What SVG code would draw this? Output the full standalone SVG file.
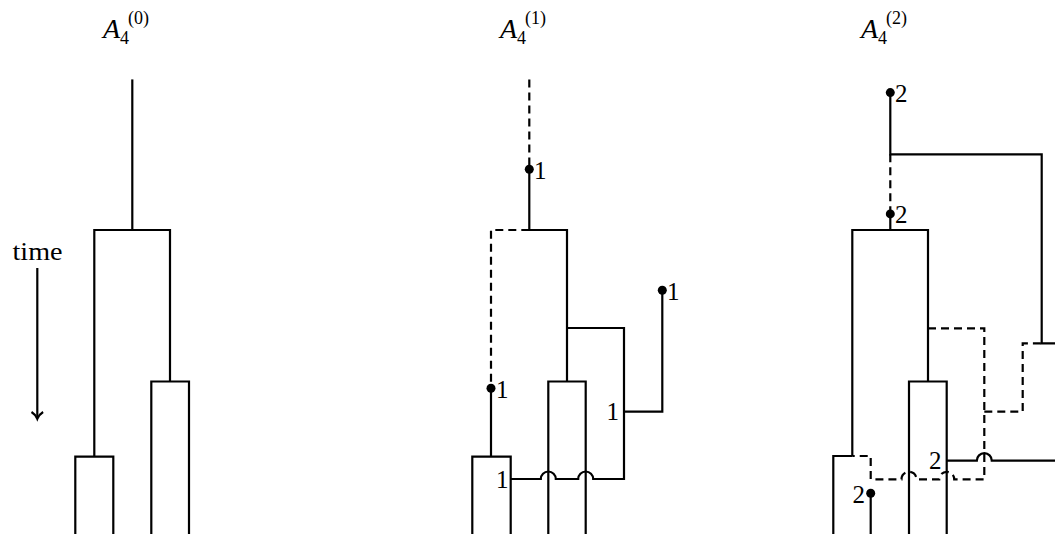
<svg xmlns="http://www.w3.org/2000/svg" width="1055" height="534" viewBox="0 0 1055 534">
  <style>
    .ln { fill: none; stroke: #000; stroke-width: 2.2; stroke-linejoin: miter; stroke-linecap: butt; }
    .dash { stroke-dasharray: 8 5; }
    .dot { fill: #000; }
    .lbl { font-family: "Liberation Serif", "DejaVu Serif", serif; font-size: 25px; fill: #000; }
    .cal { font-family: "Liberation Serif", "DejaVu Serif", serif; font-style: italic; font-size: 28px; fill: #000; }
    .scr { font-family: "Liberation Serif", "DejaVu Serif", serif; font-size: 18px; fill: #000; }
  </style>

  <!-- time axis -->
  <g id="time-axis">
    <text class="lbl" x="37.5" y="260" text-anchor="middle" font-size="28" textLength="50" lengthAdjust="spacingAndGlyphs">time</text>
    <path class="ln" d="M37.3,268 V418"/>
    <path class="ln" d="M31.5,412 Q35.5,414.5 37.3,418.8 Q39.1,414.5 43.1,412"/>
  </g>

  <!-- titles -->
  <g id="titles">
    <text class="cal" x="103" y="38">A</text>
    <text class="scr" x="120" y="43.5">4</text>
    <text class="scr" x="128" y="24">(0)</text>

    <text class="cal" x="500" y="38">A</text>
    <text class="scr" x="517" y="43.5">4</text>
    <text class="scr" x="525" y="24">(1)</text>

    <text class="cal" x="861" y="38">A</text>
    <text class="scr" x="878" y="43.5">4</text>
    <text class="scr" x="886" y="24">(2)</text>
  </g>

  <!-- panel 0: genealogy -->
  <g id="panel-0">
    <g id="connectors-0">
      <path class="ln" d="M132.3,79.4 V230"/>
      <path class="ln" d="M94.3,456.7 V230 H170 V381.5"/>
      <path class="ln" d="M75.3,534 V456.7 H113.3 V534"/>
      <path class="ln" d="M151.3,534 V381.5 H189 V534"/>
    </g>
  </g>

  <!-- panel 1 -->
  <g id="panel-1">
    <g id="connectors-1">
      <path class="ln dash" d="M529.3,79.4 V169.3"/>
      <path class="ln" d="M529.3,169.3 V230 H567 V381.5"/>
      <path class="ln dash" d="M529.3,230 H491 V388.3"/>
      <path class="ln" d="M491,388.3 V456.7"/>
      <path class="ln" d="M472.3,534 V456.7 H510.7 V534"/>
      <path class="ln" d="M548.3,534 V381.5 H585.7 V534"/>
      <path class="ln" d="M567,328 H624 V479 H593.2 A7.5,7.5 0 0 0 578.2,479 H555.8 A7.5,7.5 0 0 0 540.8,479 H510.7"/>
      <path class="ln" d="M624,411.7 H662.3 V290.2"/>
    </g>
    <g id="marks-1">
      <circle class="dot" cx="529.3" cy="169.3" r="4.5"/>
      <text class="lbl" x="534" y="178.5">1</text>
      <circle class="dot" cx="662.3" cy="290.2" r="4.5"/>
      <text class="lbl" x="667" y="299.5">1</text>
      <circle class="dot" cx="491" cy="388.3" r="4.5"/>
      <text class="lbl" x="496" y="397.5">1</text>
      <text class="lbl" x="619" y="420" text-anchor="end">1</text>
      <text class="lbl" x="508.5" y="488" text-anchor="end">1</text>
    </g>
  </g>

  <!-- panel 2 -->
  <g id="panel-2">
    <g id="connectors-2">
      <path class="ln" d="M890.3,92.6 V154.3 H1041.7 V343.3 H1055"/>
      <path class="ln dash" d="M890.3,154.3 V213.9"/>
      <path class="ln" d="M890.3,213.9 V230"/>
      <path class="ln" d="M852.3,456 V230 H928 V381.5"/>
      <path class="ln" d="M833.3,534 V456 H852.3"/>
      <path class="ln" d="M870.7,493.3 V534"/>
      <path class="ln" d="M909,534 V381.5 H946.7 V534"/>
      <path class="ln dash" d="M928,328.3 H984.3 V479.3 H954.2 A7.5,7.5 0 0 0 939.2,479.3 H916.5 A7.5,7.5 0 0 0 901.5,479.3 H870.7 V456 H852.3"/>
      <path class="ln dash" d="M984.3,411.7 H1022.7 V343.3 H1041.7"/>
      <path class="ln" d="M946.7,460.7 H976.8 A7.5,7.5 0 0 1 991.8,460.7 H1055"/>
    </g>
    <g id="marks-2">
      <circle class="dot" cx="890.3" cy="92.6" r="4.5"/>
      <text class="lbl" x="895" y="102">2</text>
      <circle class="dot" cx="890.3" cy="213.9" r="4.5"/>
      <text class="lbl" x="895" y="222.5">2</text>
      <text class="lbl" x="941.5" y="468.5" text-anchor="end">2</text>
      <circle class="dot" cx="870.7" cy="493.3" r="4.5"/>
      <text class="lbl" x="865" y="503" text-anchor="end">2</text>
    </g>
  </g>
</svg>
